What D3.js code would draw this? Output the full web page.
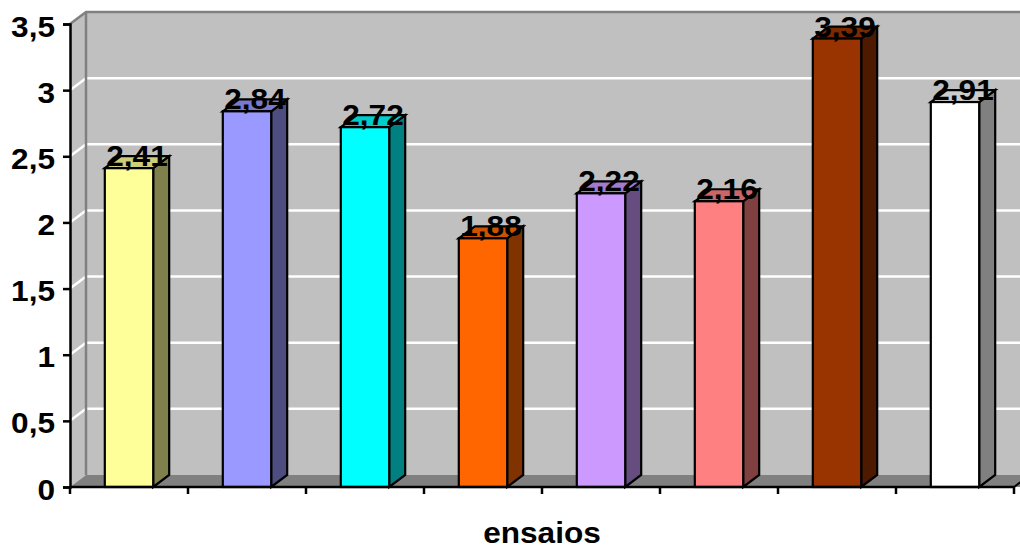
<!DOCTYPE html>
<html>
<head>
<meta charset="utf-8">
<script src="https://cdn.jsdelivr.net/npm/d3@7"></script>
<style>
  html, body { margin: 0; padding: 0; background: #ffffff; }
  svg { display: block; }
  text { font-family: "Liberation Sans", Arial, sans-serif; font-weight: bold; fill: #000; }
</style>
</head>
<body>
<svg id="chart" width="1020" height="548"></svg>
<script>
// Trial runs and their measured values
const categories = ["1", "2", "3", "4", "5", "6", "7", "8"];
const values = [2.41, 2.84, 2.72, 1.88, 2.22, 2.16, 3.39, 2.91];
const frontColors = ["#FFFF99", "#9999FF", "#00FFFF", "#FF6600", "#CC99FF", "#FF8080", "#993300", "#FFFFFF"];
const yTicks = [0, 0.5, 1, 1.5, 2, 2.5, 3, 3.5];
const axisTitle = "ensaios";

const svg = d3.select("#chart");
const W = 1020, H = 548;

// front plane of the plot and 3D depth offset
const pL = 70, pR = 1014, pB = 487, pT = 24;
const dx = 16, dy = -12;
const fontPx = 29;
const stretch = 1.09;

const x = d3.scaleBand().domain(categories).range([pL, pR]).paddingInner(0).paddingOuter(0);
const y = d3.scaleLinear().domain([0, 3.5]).range([pB, pT]);

const ptBr = d3.formatLocale({ decimal: ",", thousands: ".", grouping: [3], currency: ["", ""] });
const tickFmt = ptBr.format(".2~f");
const valFmt = ptBr.format(".2f");

const shade = (c, k) => {
  const r = d3.rgb(c);
  return d3.rgb(r.r * k, r.g * k, r.b * k).formatHex();
};
const pts = a => a.map(p => p.join(",")).join(" ");

// walls
const walls = svg.append("g");
walls.append("rect")
  .attr("x", pL + dx).attr("y", pT + dy)
  .attr("width", W - pL).attr("height", pB - pT)
  .attr("fill", "#c0c0c0");
walls.append("polygon")
  .attr("points", pts([[pL, pT], [pL + dx, pT + dy], [pL + dx, pB + dy], [pL, pB]]))
  .attr("fill", "#c0c0c0");

// gridlines on back wall and side wall
const grid = svg.append("g");
yTicks.filter(t => t > 0 && t < 3.5).forEach(t => {
  const yy = y(t);
  grid.append("line")
    .attr("x1", pL + dx).attr("x2", W + 20)
    .attr("y1", yy + dy).attr("y2", yy + dy)
    .attr("stroke", "#ffffff").attr("stroke-width", 2.5);
  grid.append("line")
    .attr("x1", pL).attr("x2", pL + dx)
    .attr("y1", yy).attr("y2", yy + dy)
    .attr("stroke", "#ffffff").attr("stroke-width", 2.5);
});

// wall edges
svg.append("polyline")
  .attr("points", pts([[pL, pT], [pL + dx, pT + dy], [W + 20, pT + dy]]))
  .attr("fill", "none").attr("stroke", "#808080").attr("stroke-width", 2.5);
svg.append("line")
  .attr("x1", pL + dx).attr("x2", pL + dx)
  .attr("y1", pT + dy).attr("y2", pB + dy)
  .attr("stroke", "#808080").attr("stroke-width", 2.5);

// floor
svg.append("polygon")
  .attr("points", pts([[pL, pB], [pR + 20, pB], [pR + 20 + dx, pB + dy], [pL + dx, pB + dy]]))
  .attr("fill", "#808080");
svg.append("line")
  .attr("x1", pR).attr("y1", pB).attr("x2", pR + dx).attr("y2", pB + dy)
  .attr("stroke", "#000").attr("stroke-width", 2);

// bars
const barW = x.bandwidth() * 0.41;
const bars = svg.append("g")
  .selectAll("g")
  .data(categories.map((c, i) => ({ c, v: values[i], col: frontColors[i] })))
  .join("g");

bars.each(function (d) {
  const g = d3.select(this);
  const x0 = x(d.c) + (x.bandwidth() - barW) / 2;
  const x1 = x0 + barW;
  const yv = y(d.v);
  const y0 = y(0);
  const side = g.append("polygon")
    .attr("points", pts([[x1, yv], [x1 + dx, yv + dy], [x1 + dx, y0 + dy], [x1, y0]]))
    .attr("fill", shade(d.col, 0.5));
  const topFace = g.append("polygon")
    .attr("points", pts([[x0, yv], [x0 + dx, yv + dy], [x1 + dx, yv + dy], [x1, yv]]))
    .attr("fill", shade(d.col, 0.8));
  const front = g.append("rect")
    .attr("x", x0).attr("y", yv).attr("width", barW).attr("height", y0 - yv)
    .attr("fill", d.col);
  [side, topFace, front].forEach(s => s
    .attr("stroke", "#000").attr("stroke-width", 2.2).attr("stroke-linejoin", "miter"));
});

// value labels
bars.append("text")
  .attr("text-anchor", "middle")
  .attr("font-size", fontPx)
  .attr("transform", d => {
    const x0 = x(d.c) + (x.bandwidth() - barW) / 2;
    return `translate(${x0 + (barW + dx) / 2},${y(d.v) - 2}) scale(${stretch},1)`;
  })
  .text(d => valFmt(d.v));

// y axis
const yAxis = svg.append("g")
  .attr("transform", `translate(${pL},0)`)
  .call(d3.axisLeft(y).tickValues(yTicks).tickSize(7).tickFormat(tickFmt));
yAxis.attr("font-family", null).attr("font-size", null);
yAxis.select(".domain").attr("stroke", "#000").attr("stroke-width", 2.5);
yAxis.selectAll(".tick line").attr("stroke", "#000").attr("stroke-width", 2.5);
yAxis.selectAll(".tick text")
  .attr("x", null).attr("dy", null)
  .attr("fill", "#000")
  .attr("font-size", fontPx)
  .attr("dominant-baseline", "central")
  .attr("transform", `translate(-15,2) scale(${stretch},1)`);

// x axis: tick marks at category boundaries
const xAxisG = svg.append("g");
xAxisG.append("line")
  .attr("x1", pL).attr("x2", pR).attr("y1", pB).attr("y2", pB)
  .attr("stroke", "#000").attr("stroke-width", 2.5);
const bounds = categories.map(c => x(c)).concat([x(categories[categories.length - 1]) + x.bandwidth()]);
xAxisG.selectAll("line.tk").data(bounds).join("line")
  .attr("class", "tk")
  .attr("x1", d => d).attr("x2", d => d)
  .attr("y1", pB).attr("y2", pB + 7)
  .attr("stroke", "#000").attr("stroke-width", 2.5);

// axis title
svg.append("text")
  .attr("text-anchor", "middle")
  .attr("font-size", fontPx)
  .attr("transform", `translate(${(pL + pR) / 2},543) scale(${stretch},1)`)
  .text(axisTitle);
</script>
</body>
</html>
